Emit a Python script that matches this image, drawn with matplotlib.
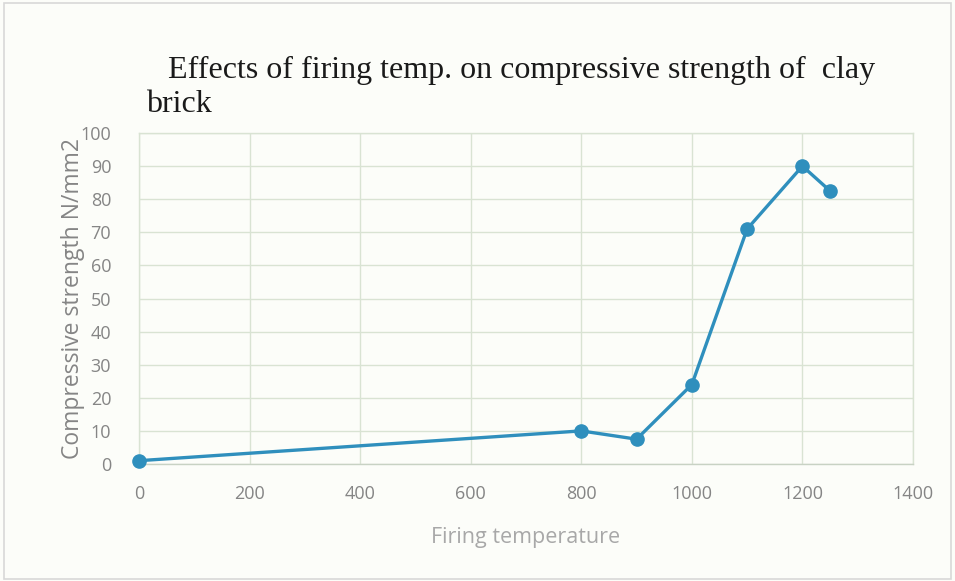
import matplotlib

matplotlib.use("Agg")
import matplotlib.pyplot as plt
from matplotlib.patches import Rectangle

# data
temperature = [0, 800, 900, 1000, 1100, 1200, 1250]
strength = [1, 10, 7.5, 24, 71, 90, 82.5]

x_ticks = [0, 200, 400, 600, 800, 1000, 1200, 1400]
y_ticks = [0, 10, 20, 30, 40, 50, 60, 70, 80, 90, 100]

LINE_COLOR = "#2f8fbd"
GRID_COLOR = "#d9e3d3"
TEXT_GRAY = "#858585"
BG = "#fcfdf9"
W, H = 955, 581

fig = plt.figure(figsize=(9.55, 5.81), dpi=100, facecolor=BG)
fig.patches.append(Rectangle((0.004, 0.004), 0.992, 0.99, transform=fig.transFigure,
                             fill=False, edgecolor="#d8d8d8", linewidth=1.2))

ax = fig.add_axes([139 / W, 1 - 464 / H, 774 / W, 331 / H])
ax.set_facecolor(BG)

ax.plot(temperature, strength, color=LINE_COLOR, linewidth=2.4,
        marker="o", markersize=9.5, clip_on=False, zorder=3)

ax.set_xlim(0, 1400)
ax.set_ylim(0, 100)
ax.set_xticks(x_ticks)
ax.set_yticks(y_ticks)
ax.grid(True, color=GRID_COLOR, linewidth=1.0)
ax.set_axisbelow(True)
for spine in ax.spines.values():
    spine.set_color(GRID_COLOR)
    spine.set_linewidth(1.0)
ax.spines["bottom"].set_color("#c8d2c4")

ax.tick_params(length=0, labelsize=13, labelcolor=TEXT_GRAY)
ax.tick_params(axis="y", pad=20)
ax.tick_params(axis="x", pad=15)
for lab in ax.get_xticklabels() + ax.get_yticklabels():
    lab.set_family("Open Sans")

ax.set_xlabel("Firing temperature", fontsize=15.5, color="#a8a8a8",
              family="Open Sans")
ax.xaxis.set_label_coords(0.5, -0.19)
ax.set_ylabel("Compressive strength N/mm2", fontsize=16.5, color=TEXT_GRAY,
              family="Open Sans")
ax.yaxis.set_label_coords(-0.07, 0.5)

fig.text(168 / W, 1 - 78 / H,
         "Effects of firing temp. on compressive strength of  clay",
         fontsize=23, family="Liberation Serif", color="#1a1a1a",
         ha="left", va="baseline")
fig.text(146 / W, 1 - 112 / H, "brick",
         fontsize=23, family="Liberation Serif", color="#1a1a1a",
         ha="left", va="baseline")

fig.savefig("out.png", dpi=100, facecolor=BG)
